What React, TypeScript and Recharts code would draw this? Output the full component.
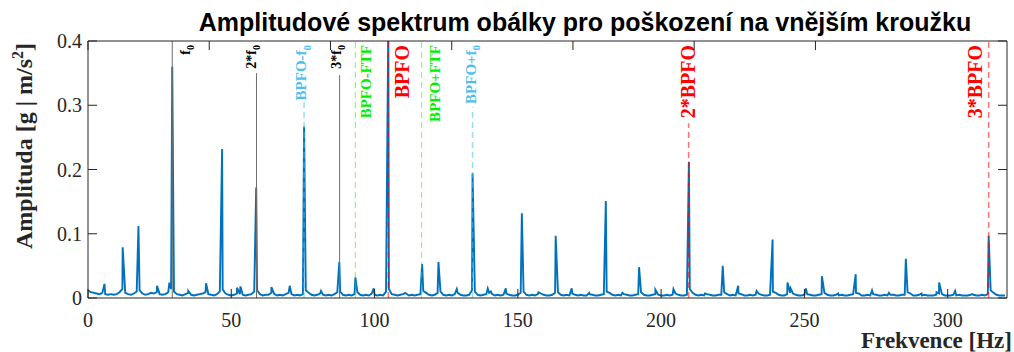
import React from 'react';
import { LineChart, Line, XAxis, YAxis, ReferenceLine } from 'recharts';

// Noise floor of the envelope spectrum, thousandths of g, 1 Hz steps from 0 Hz
const noiseFloor = [
  12, 9, 8, 7, 6, 8, 6, 5, 6, 5,
  6, 9, 14, 8, 6, 5, 7, 10, 12, 7,
  5, 6, 8, 7, 9, 6, 5, 6, 9, 14,
  10, 6, 5, 4, 6, 8, 5, 4, 5, 6,
  7, 9, 6, 5, 4, 6, 10, 13, 7, 5,
  4, 5, 7, 6, 5, 4, 5, 6, 10, 12,
  6, 4, 5, 5, 8, 6, 4, 5, 4, 6,
  8, 6, 4, 5, 4, 6, 12, 8, 5, 4,
  5, 7, 5, 4, 5, 4, 6, 9, 10, 5,
  4, 5, 4, 6, 9, 5, 4, 5, 4, 7,
  5, 4, 5, 4, 10, 14, 6, 5, 4, 5,
  6, 7, 4, 5, 4, 5, 6, 11, 8, 5,
  4, 5, 8, 10, 5, 4, 5, 4, 6, 8,
  5, 4, 4, 5, 12, 10, 5, 4, 5, 6,
  8, 6, 4, 5, 4, 5, 7, 5, 4, 4,
  5, 8, 10, 5, 4, 5, 4, 6, 7, 5,
  4, 4, 5, 8, 9, 5, 4, 5, 4, 7,
  5, 4, 5, 4, 4, 6, 5, 4, 4, 5,
  6, 10, 8, 5, 4, 5, 4, 6, 5, 4,
  4, 5, 6, 9, 5, 4, 4, 5, 6, 5,
  4, 4, 5, 4, 5, 7, 5, 4, 4, 5,
  14, 8, 5, 4, 5, 4, 6, 5, 4, 4,
  5, 5, 9, 6, 4, 5, 4, 7, 6, 4,
  4, 5, 4, 5, 7, 5, 4, 4, 5, 10,
  8, 5, 4, 4, 6, 8, 7, 5, 4, 4,
  5, 6, 5, 4, 4, 5, 6, 8, 5, 4,
  4, 5, 4, 5, 4, 4, 5, 6, 8, 7,
  4, 4, 5, 4, 6, 5, 4, 4, 5, 4,
  5, 5, 4, 4, 5, 5, 9, 7, 4, 4,
  5, 4, 5, 4, 4, 4, 5, 7, 6, 4,
  4, 4, 5, 4, 5, 4, 4, 4, 5, 5,
  4, 4, 5, 4, 6, 12, 8, 5, 4, 4,
  4,
];

// Spectral peaks: frequency [Hz] and amplitude [g]
const peakFreqs = [
  5.75, 12.1, 17.6, 24.1, 28.4, 29.4, 35.0, 41.2, 46.8, 52.0, 53.2, 58.7,
  64.0, 70.4, 75.4, 81.3, 87.7, 93.3, 99.7, 104.8, 110.7, 116.6, 122.3, 128.7,
  134.2, 139.5, 140.6, 145.8, 151.4, 157.2, 163.2, 168.8, 174.9, 180.7, 186.5,
  192.3, 198.0, 204.3, 209.7, 215.3, 221.5, 226.9, 233.3, 238.9, 244.1, 245.2,
  250.5, 256.1, 261.8, 267.9, 273.6, 279.5, 285.4, 290.9, 296.1, 297.0, 302.6,
  308.6, 314.3,
];
const peakAmps = [
  0.022, 0.079, 0.112, 0.019, 0.024, 0.36, 0.011, 0.023, 0.232, 0.016, 0.018, 0.172,
  0.017, 0.019, 0.267, 0.011, 0.056, 0.032, 0.015, 0.43, 0.008, 0.053, 0.056, 0.014,
  0.194, 0.015, 0.010, 0.015, 0.132, 0.009, 0.097, 0.015, 0.008, 0.151, 0.008,
  0.048, 0.013, 0.014, 0.212, 0.007, 0.050, 0.019, 0.011, 0.091, 0.024, 0.015,
  0.015, 0.034, 0.007, 0.037, 0.012, 0.008, 0.061, 0.007, 0.009, 0.024, 0.011,
  0.006, 0.097,
];

const xTicks = [0, 50, 100, 150, 200, 250, 300];
const yTicks = [0, 0.1, 0.2, 0.3, 0.4];
const yTickLabels = ['0', '0.1', '0.2', '0.3', '0.4'];

// Fault-frequency markers
const markerFreqs = [29.4, 58.8, 87.8, 75.4, 93.3, 104.8, 116.4, 134.2, 209.6, 314.3];
const markerNames = ['f', '2*f', '3*f', 'BPFO-f', 'BPFO-FTF', 'BPFO', 'BPFO+FTF', 'BPFO+f', '2*BPFO', '3*BPFO'];
const markerSubs = ['0', '0', '0', '0', '', '', '', '0', '', ''];
const markerGroups = ['harm', 'harm', 'harm', 'side', 'ftf', 'bpfo', 'ftf', 'side', 'bpfo', 'bpfo'];

// ---- styling / layout (not data) ----
const SERIF = '"Liberation Serif", "Times New Roman", serif';
const SANS = '"Liberation Sans", Arial, sans-serif';
const AX = '#262626';
const groupStyle: Record<string, any> = {
  harm: { line: '#6e6e6e', dash: undefined, op: 1, text: '#000000', size: 14, w: 1 },
  side: { line: '#4DBEEE', dash: '6 4', op: 0.55, text: '#4DBEEE', size: 15, w: 1.5 },
  ftf: { line: '#00FF00', dash: '6 4', op: 0.5, text: '#00EE00', size: 15, w: 1.2 },
  bpfo: { line: '#FF0000', dash: '6 4', op: 0.55, text: '#FF0000', size: 20, w: 1.5 },
};
const labelDx = [13, -5, -3, -3, 11, 14, 13, -2, 0, -13];
const lineTop = [0.4, 0.35, 0.347, 0.308, 0.4, 0.4, 0.4, 0.297, 0.272, 0.4];
const LABEL_TOP = 45;

const table = [
  ...noiseFloor.map((v, i) => ({ f: i, a: v / 1000 })),
  ...peakFreqs.map((f, i) => ({ f, a: peakAmps[i] })),
].sort((p, q) => p.f - q.f);

const BottomTick = (p: any) => (
  <g>
    <line x1={p.x} x2={p.x} y1={p.y} y2={p.y - 9} stroke={AX} strokeWidth={1} />
    <text x={p.x} y={p.y + 29} textAnchor="middle" fontFamily={SERIF} fontSize={20} fill={AX}>
      {p.payload.value}
    </text>
  </g>
);
const TopTick = (p: any) => (
  <line x1={p.x} x2={p.x} y1={p.y} y2={p.y + 9} stroke={AX} strokeWidth={1} />
);
const LeftTick = (p: any) => {
  const idx = yTicks.findIndex((t) => Math.abs(t - p.payload.value) < 1e-9);
  return (
    <g>
      <line x1={p.x} x2={p.x + 9} y1={p.y} y2={p.y} stroke={AX} strokeWidth={1} />
      <text x={p.x - 6} y={p.y + 7} textAnchor="end" fontFamily={SERIF} fontSize={20} fill={AX}>
        {idx >= 0 ? yTickLabels[idx] : p.payload.value}
      </text>
    </g>
  );
};
const RightTick = (p: any) => (
  <line x1={p.x} x2={p.x - 9} y1={p.y} y2={p.y} stroke={AX} strokeWidth={1} />
);

const makeLabel = (i: number) => (props: any) => {
  const vb = props.viewBox || {};
  const st = groupStyle[markerGroups[i]];
  const cx = (vb.x ?? 0) + labelDx[i];
  const bx = cx + st.size * 0.33;
  return (
    <text
      transform={`translate(${bx},${LABEL_TOP}) rotate(-90)`}
      textAnchor="end"
      fontFamily={SERIF}
      fontWeight="bold"
      fontSize={st.size}
      fill={st.text}
    >
      {markerNames[i]}
      {markerSubs[i] ? (
        <tspan dy={st.size * 0.3} fontSize={st.size * 0.72}>
          {markerSubs[i]}
        </tspan>
      ) : null}
    </text>
  );
};

export default function App() {
  return (
    <div style={{ position: 'absolute', left: 0, top: 0, width: 1014, height: 352, background: '#fff' }}>
      <LineChart width={1014} height={352} data={table} margin={{ top: 11, right: 0, bottom: 0, left: 0 }}>
        <XAxis
          dataKey="f"
          type="number"
          domain={[0, 320.7]}
          allowDataOverflow
          ticks={xTicks}
          interval={0}
          height={54}
          tickSize={0}
          tickMargin={0}
          tick={BottomTick}
          axisLine={{ stroke: AX }}
          tickLine={false}
        />
        <XAxis
          xAxisId="top"
          orientation="top"
          type="number"
          domain={[0, 320.7]}
          allowDataOverflow
          ticks={xTicks}
          interval={0}
          height={30}
          tickSize={0}
          tickMargin={0}
          tick={TopTick}
          axisLine={{ stroke: AX }}
          tickLine={false}
        />
        <YAxis
          type="number"
          domain={[0, 0.4]}
          allowDataOverflow
          ticks={yTicks}
          interval={0}
          width={88}
          tickSize={0}
          tickMargin={0}
          tick={LeftTick}
          axisLine={{ stroke: AX }}
          tickLine={false}
        />
        <YAxis
          yAxisId="right"
          orientation="right"
          type="number"
          domain={[0, 0.4]}
          allowDataOverflow
          ticks={yTicks}
          interval={0}
          width={7}
          tickSize={0}
          tickMargin={0}
          tick={RightTick}
          axisLine={{ stroke: AX }}
          tickLine={false}
        />
        <Line
          dataKey="a"
          type="linear"
          stroke="#0072BD"
          strokeWidth={1.9}
          dot={false}
          activeDot={false}
          isAnimationActive={false}
        />
        {markerFreqs.map((f, i) => {
          const st = groupStyle[markerGroups[i]];
          return (
            <ReferenceLine
              key={i}
              segment={[
                { x: f, y: 0 },
                { x: f, y: lineTop[i] },
              ]}
              stroke={st.line}
              strokeOpacity={st.op}
              strokeWidth={st.w}
              strokeDasharray={st.dash}
              label={makeLabel(i)}
            />
          );
        })}
      </LineChart>
      <svg
        width={1014}
        height={352}
        style={{ position: 'absolute', left: 0, top: 0, pointerEvents: 'none' }}
      >
        <text x={585} y={31} textAnchor="middle" fontFamily={SANS} fontWeight="bold" fontSize={25} fill="#000">
          Amplitudové spektrum obálky pro poškození na vnějším kroužku
        </text>
        <text
          transform="translate(32,146) rotate(-90)"
          textAnchor="middle"
          fontFamily={SERIF}
          fontWeight="bold"
          fontSize={24}
          fill={AX}
        >
          Amplituda [g | m/s<tspan dy={-9} fontSize={16}>2</tspan>
          <tspan dy={9}>]</tspan>
        </text>
        <text x={1012} y={348} textAnchor="end" fontFamily={SERIF} fontWeight="bold" fontSize={23} fill={AX}>
          Frekvence [Hz]
        </text>
      </svg>
    </div>
  );
}
